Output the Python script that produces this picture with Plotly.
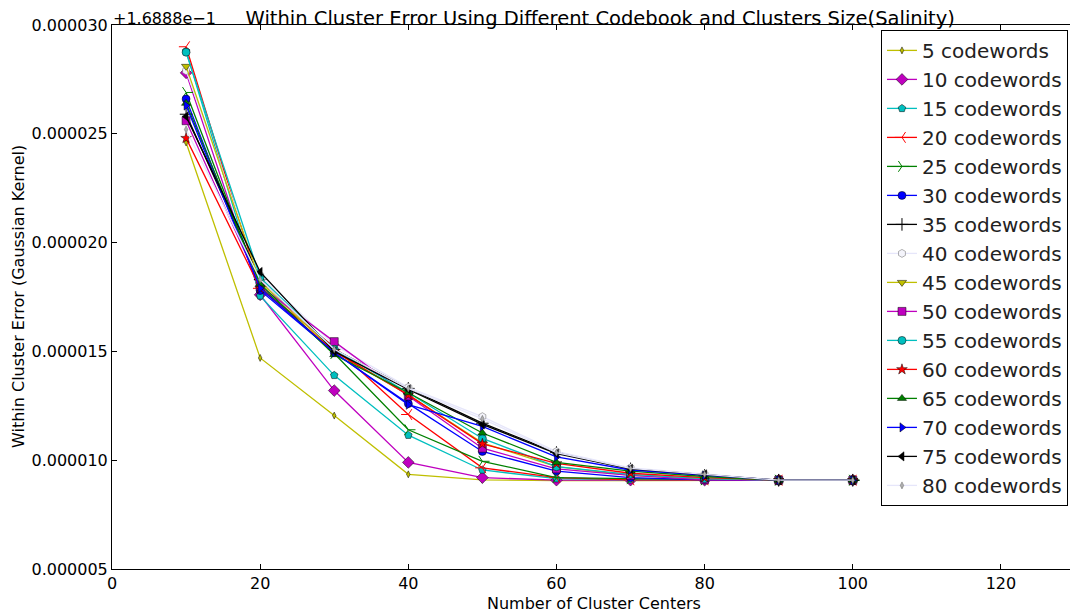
import numpy as np
import plotly.graph_objects as go

# Number of cluster centers
cluster_centers = [10, 20, 30, 40, 50, 60, 70, 80, 90, 100]

# Within cluster error, expressed as (value - 0.16888) in units of 1e-6
series_names = ["5 codewords", "10 codewords", "15 codewords", "20 codewords",
                "25 codewords", "30 codewords", "35 codewords", "40 codewords",
                "45 codewords", "50 codewords", "55 codewords", "60 codewords",
                "65 codewords", "70 codewords", "75 codewords", "80 codewords"]

err_5 = [24.6, 14.7, 12.05, 9.35, 9.10, 9.06, 9.06, 9.06, 9.08, 9.08]
err_10 = [27.8, 17.6, 13.2, 9.9, 9.2, 9.08, 9.08, 9.08, 9.08, 9.08]
err_15 = [28.8, 17.55, 13.9, 11.15, 9.55, 9.15, 9.10, 9.10, 9.08, 9.08]
err_20 = [29.0, 17.9, 15.2, 12.1, 9.65, 9.2, 9.10, 9.10, 9.08, 9.08]
err_25 = [26.9, 18.0, 14.9, 11.4, 9.95, 9.2, 9.15, 9.10, 9.08, 9.08]
err_30 = [26.6, 17.8, 14.95, 12.6, 10.4, 9.5, 9.2, 9.10, 9.08, 9.08]
err_35 = [25.9, 18.3, 15.1, 13.3, 11.7, 10.35, 9.6, 9.30, 9.08, 9.08]
err_40 = [27.9, 18.5, 15.3, 13.35, 12.0, 10.4, 9.65, 9.35, 9.08, 9.08]
err_45 = [28.1, 18.2, 15.0, 13.0, 10.8, 9.7, 9.3, 9.15, 9.08, 9.08]
err_50 = [25.6, 18.0, 15.45, 12.95, 10.55, 9.6, 9.3, 9.10, 9.08, 9.08]
err_55 = [28.75, 18.4, 15.1, 13.1, 11.0, 9.7, 9.35, 9.15, 9.08, 9.08]
err_60 = [24.8, 17.9, 15.0, 13.0, 10.75, 9.85, 9.4, 9.20, 9.08, 9.08]
err_65 = [26.4, 18.1, 14.85, 13.1, 11.25, 9.9, 9.5, 9.25, 9.08, 9.08]
err_70 = [26.3, 17.9, 14.95, 12.55, 11.55, 10.15, 9.55, 9.30, 9.08, 9.08]
err_75 = [25.8, 18.65, 15.0, 13.25, 11.65, 10.3, 9.6, 9.35, 9.08, 9.08]
err_80 = [25.2, 18.3, 15.1, 13.3, 11.9, 10.35, 9.62, 9.35, 9.08, 9.08]

all_errs = [err_5, err_10, err_15, err_20, err_25, err_30, err_35, err_40,
            err_45, err_50, err_55, err_60, err_65, err_70, err_75, err_80]

x_ticks = [0, 20, 40, 60, 80, 100, 120]
y_ticks = [5, 10, 15, 20, 25, 30]
offset_text = "+1.6888e\u22121"
title_text = "Within Cluster Error Using Different Codebook and Clusters Size(Salinity)"
x_title = "Number of Cluster Centers"
y_title = "Within Cluster Error (Gaussian Kernel)"

colors = ["#bfbf00", "#bf00bf", "#00bfbf", "#ff0000", "#008000", "#0000ff", "#000000",
          "#e6e6fa", "#bfbf00", "#bf00bf", "#00bfbf", "#ff0000", "#008000", "#0000ff",
          "#000000", "#e6e6fa"]
symbols = ["diamond-tall", "diamond", "pentagon", "y-left-open", "y-right-open", "circle",
           "cross-thin-open", "hexagon", "triangle-down", "square", "circle", "star",
           "triangle-up", "triangle-right", "triangle-left", "diamond-tall"]
sizes = [5, 9, 8, 9, 9, 8, 9, 8, 8, 8, 8, 8, 8, 8, 8, 5]
faces = [None, None, None, None, None, None, None, "#f4f4fb", None, None, None, None,
         None, None, None, "#b0b0b0"]
open_syms = {"y-left-open", "y-right-open", "cross-thin-open"}

fig = go.Figure()
for name, errs, col, sym, sz, face in zip(series_names, all_errs, colors, symbols, sizes, faces):
    if sym in open_syms:
        marker = dict(symbol=sym, size=sz, color=col, line=dict(color=col, width=1))
    else:
        marker = dict(symbol=sym, size=sz, color=face if face else col,
                      line=dict(color="#666666" if face else "black", width=0.5))
    fig.add_trace(go.Scatter(
        x=cluster_centers, y=np.array(errs) * 1e-6, name=name, mode="lines+markers",
        line=dict(color=col, width=1.3), marker=marker))

axis_common = dict(showline=True, linecolor="black", linewidth=1, mirror="ticks",
                   ticks="inside", ticklen=5, tickcolor="black", showgrid=False,
                   zeroline=False, automargin=False,
                   tickfont=dict(size=16, color="black"))

# the page body adds an 8px margin, so the figure is sized to fit the window
fig.update_layout(
    width=1070, height=604,
    margin=dict(l=104, r=3, t=17, b=43),
    paper_bgcolor="white", plot_bgcolor="white",
    font=dict(family="DejaVu Sans", color="black"),
    title=dict(text=title_text, x=0.5535, xanchor="center", y=0.994, yanchor="top",
               pad=dict(t=0, b=0), font=dict(size=19.5, color="black")),
    xaxis=dict(range=[0, 130], tickvals=x_ticks, ticktext=[str(v) for v in x_ticks],
               **axis_common),
    yaxis=dict(range=[5e-6, 30e-6], tickvals=[v * 1e-6 for v in y_ticks],
               ticktext=["%.6f" % (v * 1e-6) for v in y_ticks],
               **axis_common),
    legend=dict(x=0.9927, xanchor="right", y=0.991, yanchor="top",
                bordercolor="black", borderwidth=1, bgcolor="white",
                font=dict(size=20, color="#222222")),
    showlegend=True,
)
fig.add_annotation(text=offset_text, xref="paper", yref="paper", x=0, y=1,
                   xanchor="left", yanchor="bottom", showarrow=False, borderpad=0,
                   font=dict(size=16, color="black"), yshift=-4)
fig.add_annotation(text=x_title, xref="paper", yref="paper", x=0.5, y=-0.0625,
                   xanchor="center", yanchor="middle", showarrow=False, borderpad=0,
                   font=dict(size=16, color="black"))
fig.add_annotation(text=y_title, xref="paper", yref="paper", x=-0.0976, y=0.5,
                   xanchor="center", yanchor="middle", showarrow=False, textangle=-90,
                   font=dict(size=16, color="black"))

fig.write_html("out.html")
